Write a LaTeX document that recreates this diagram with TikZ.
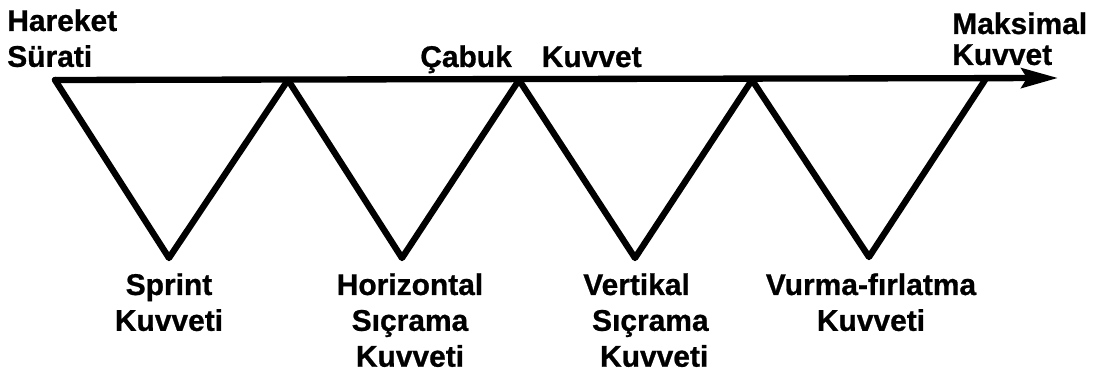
\documentclass[tikz,border=0pt]{standalone}
\usepackage{fontspec}
\setmainfont{Liberation Sans}[BoldFeatures={FakeBold=0.8}]
\usetikzlibrary{arrows.meta,positioning}

\tikzset{
  lbl/.style={font=\bfseries\fontsize{21.3pt}{25.5pt}\selectfont,inner sep=0pt},
  zig/.style={line width=4.5pt,line join=round,line cap=round}
}

\begin{document}
\begin{tikzpicture}[x=0.025cm,y=-0.025cm]
      \useasboundingbox (0,0) rectangle (1098,373);
      % vertices of the zigzag
      \coordinate (t1) at (55,80);
      \coordinate (b1) at (169,258);
      \coordinate (t2) at (288,80);
      \coordinate (b2) at (402,258);
      \coordinate (t3) at (519,80);
      \coordinate (b3) at (635,258);
      \coordinate (t4) at (752,80);
      \coordinate (b4) at (869,257);
      \coordinate (t5) at (985,80);
      \coordinate (tip) at (1058,78);
      % axis with arrow
      \draw[zig,-{Stealth[length=26pt,width=14pt,inset=4pt]}] (t1) -- (tip);
      \draw[zig] (t1) -- (b1) -- (t2) -- (b2) -- (t3) -- (b3) -- (t4) -- (b4) -- (t5);
      % Labels on top
      \node[lbl,align=left,anchor=north west] (hareket) at (7,9) {Hareket\\Sürati};
      \node[lbl,anchor=base west] (cabuk) at (420,67) {Çabuk\quad Kuvvet};
      \node[lbl,align=left,anchor=north west] (maksimal) at (952,12) {Maksimal\\[-3.5pt]Kuvvet};
      % Labels below the triangles
      \node[lbl,align=center,anchor=north] (sprint) at (169,273) {Sprint\\Kuvveti};
      \node[lbl,align=center,anchor=north] (horizontal) at (410,273) {Horizontal\\Sıçrama\\Kuvveti};
      \node[lbl,align=left,anchor=north west] (vertikal) at (583,273) {Vertikal\\\hspace*{0.22cm}Sıçrama\\\hspace*{0.42cm}Kuvveti};
      \node[lbl,align=center,anchor=north] (vurma) at (871,273) {Vurma-fırlatma\\Kuvveti};
    \end{tikzpicture}
\end{document}
